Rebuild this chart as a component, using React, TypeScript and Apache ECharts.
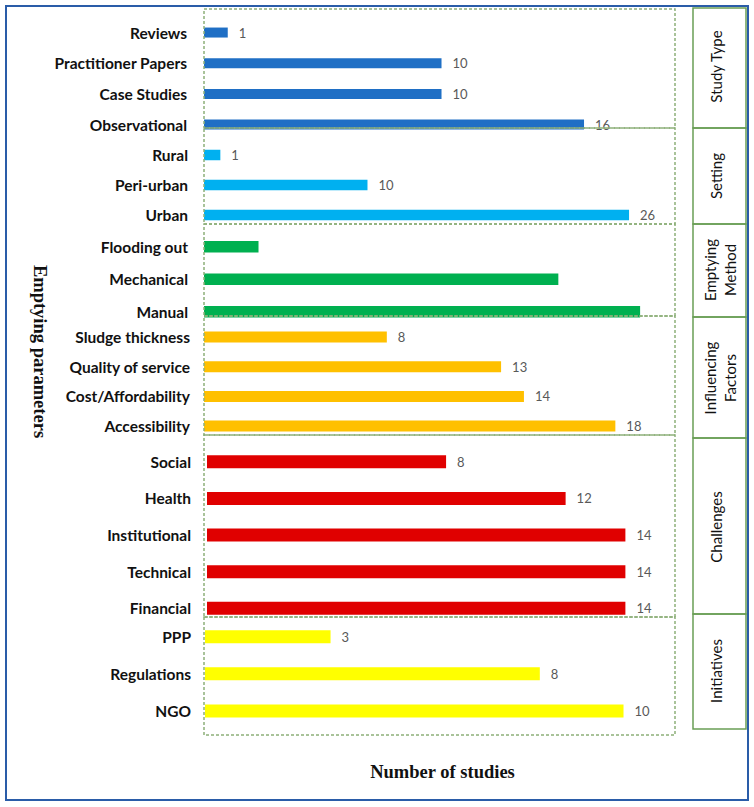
import React, { useEffect, useRef } from "react";
import * as echarts from "echarts";

const studyTypeCats = ["Reviews", "Practitioner Papers", "Case Studies", "Observational"];
const studyTypeVals = [1, 10, 10, 16];
const settingCats = ["Rural", "Peri-urban", "Urban"];
const settingVals = [1, 10, 26];
const emptyingCats = ["Flooding out", "Mechanical", "Manual"];
const emptyingVals = [2, 13, 16];
const influencingCats = ["Sludge thickness", "Quality of service", "Cost/Affordability", "Accessibility"];
const influencingVals = [8, 13, 14, 18];
const challengesCats = ["Social", "Health", "Institutional", "Technical", "Financial"];
const challengesVals = [8, 12, 14, 14, 14];
const initiativesCats = ["PPP", "Regulations", "NGO"];
const initiativesVals = [3, 8, 10];
const groupNames = ["Study Type", "Setting", "Emptying\nMethod", "Influencing\nFactors", "Challenges", "Initiatives"];
const yTitle = "Emptying parameters";
const xTitle = "Number of studies";

// layout (not data)
const groups = [
  { cats: studyTypeCats, vals: studyTypeVals, color: "#1F6FC5", left: 204, width: 471, max: 19.83, top: 17.2, height: 122.7, bw: 10, margin: 17, showLabel: true },
  { cats: settingCats, vals: settingVals, color: "#00B0F0", left: 204, width: 471, max: 28.81, top: 140, height: 90, bw: 10.5, margin: 16, showLabel: true },
  { cats: emptyingCats, vals: emptyingVals, color: "#00B050", left: 204, width: 471, max: 17.28, top: 230.5, height: 97.5, bw: 11.5, margin: 16, showLabel: false },
  { cats: influencingCats, vals: influencingVals, color: "#FFC000", left: 204, width: 471, max: 20.61, top: 322.2, height: 118.7, bw: 11, margin: 14, showLabel: true },
  { cats: challengesCats, vals: challengesVals, color: "#E00000", left: 207, width: 468, max: 15.66, top: 443.4, height: 183.3, bw: 13, margin: 16, showLabel: true },
  { cats: initiativesCats, vals: initiativesVals, color: "#FFFF00", left: 205, width: 470, max: 11.23, top: 618.1, height: 111.5, bw: 13, margin: 14, showLabel: true },
];
const dashedBands = [[9, 128], [128, 224], [224, 316], [316, 435], [435, 617], [617, 735]];
const sideBands = [[8, 128], [128, 224], [224, 317], [317, 438], [438, 614], [614, 729]];
const sideLabelY = [66.5, 176, 270, 378, 527, 671];

export default function App() {
  const ref = useRef<HTMLDivElement>(null);
  useEffect(() => {
    document.body.style.margin = "0";
    const chart = echarts.init(ref.current!, null, { renderer: "svg" });
    const grid: any[] = [];
    const xAxis: any[] = [];
    const yAxis: any[] = [];
    const series: any[] = [];
    groups.forEach((g, i) => {
      grid.push({ left: g.left, width: g.width, top: g.top, height: g.height, containLabel: false });
      xAxis.push({ type: "value", gridIndex: i, min: 0, max: g.max, show: false });
      yAxis.push({
        type: "category", gridIndex: i, data: g.cats, inverse: true,
        axisLine: { show: false }, axisTick: { show: false }, splitLine: { show: false },
        axisLabel: { margin: g.margin, fontFamily: "Lato", fontWeight: "bold", fontSize: 15.5, color: "#111" },
      });
      series.push({
        type: "bar", xAxisIndex: i, yAxisIndex: i, data: g.vals, barWidth: g.bw,
        itemStyle: { color: g.color },
        label: { show: g.showLabel, position: "right", distance: 11, fontFamily: "Lato", fontSize: 13, color: "#595959" },
        silent: true,
      });
    });
    const graphic: any[] = [];
    graphic.push({ type: "rect", shape: { x: 6, y: 6, width: 742, height: 794 }, style: { fill: "none", stroke: "#2A5CA8", lineWidth: 2 }, z: 10 });
    dashedBands.forEach(([a, b]) => {
      graphic.push({ type: "rect", shape: { x: 204, y: a, width: 471, height: b - a }, style: { fill: "none", stroke: "#8DB07A", lineWidth: 1.5, lineDash: [3, 2] }, z: 10 });
    });
    sideBands.forEach(([a, b], i) => {
      graphic.push({ type: "rect", shape: { x: 693, y: a, width: 53, height: b - a }, style: { fill: "none", stroke: "#6A9E55", lineWidth: 1.5 }, z: 10 });
      graphic.push({
        type: "text", x: i === 2 || i === 3 ? 720 : 716, y: sideLabelY[i], rotation: Math.PI / 2,
        style: { text: groupNames[i], font: "15px Lato", fill: "#111", align: "center", verticalAlign: "middle", textAlign: "center", textVerticalAlign: "middle", lineHeight: 20 },
        z: 11,
      });
    });
    graphic.push({
      type: "text", x: 40, y: 351.5, rotation: -Math.PI / 2,
      style: { text: yTitle, font: "bold 18.5px 'Liberation Serif'", fill: "#111", align: "center", verticalAlign: "middle", textAlign: "center", textVerticalAlign: "middle" },
      z: 11,
    });
    graphic.push({
      type: "text", x: 442.5, y: 772,
      style: { text: xTitle, font: "bold 18.5px 'Liberation Serif'", fill: "#111", align: "center", verticalAlign: "middle", textAlign: "center", textVerticalAlign: "middle" },
      z: 11,
    });
    chart.setOption({
      animation: false,
      backgroundColor: "#ffffff",
      grid, xAxis, yAxis, series, graphic,
    });
    return () => chart.dispose();
  }, []);
  return <div ref={ref} style={{ width: 754, height: 807 }} />;
}
